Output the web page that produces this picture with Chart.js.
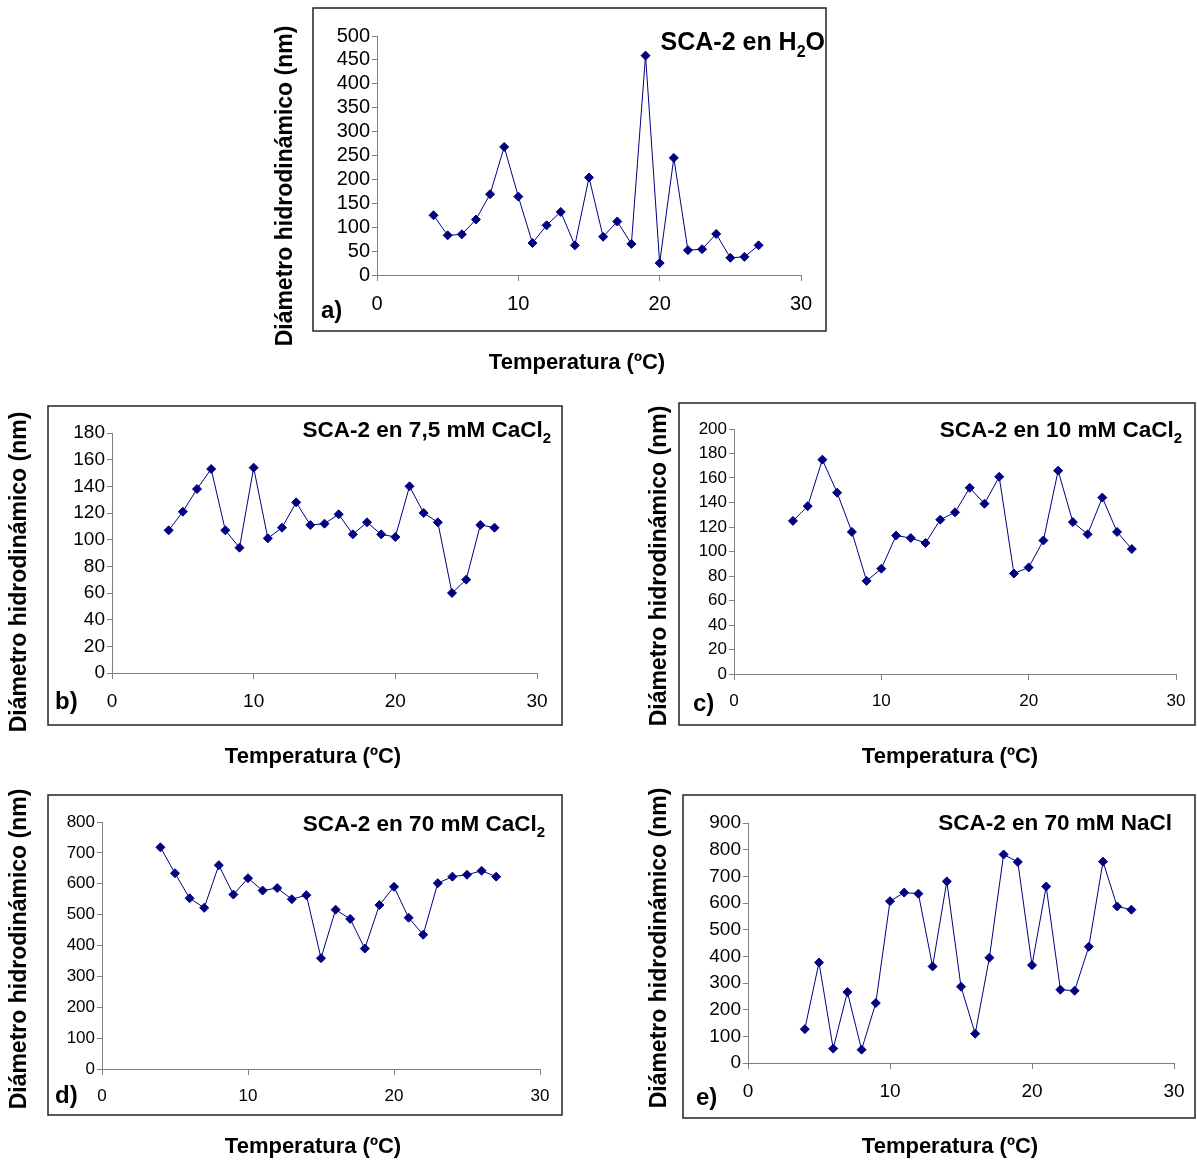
<!DOCTYPE html>
<html>
<head>
<meta charset="utf-8">
<script src="https://cdn.jsdelivr.net/npm/chart.js@4.4.1/dist/chart.umd.min.js"></script>
<style>
  html, body { margin: 0; padding: 0; background: #fff; }
  body { width: 1197px; height: 1160px; position: relative; overflow: hidden; }
  canvas { position: absolute; }
</style>
</head>
<body>
<canvas id="chartA"></canvas>
<canvas id="chartB"></canvas>
<canvas id="chartC"></canvas>
<canvas id="chartD"></canvas>
<canvas id="chartE"></canvas>
<script>
// temperatures (x) shared by all five series
const temperatures = [4, 5, 6, 7, 8, 9, 10, 11, 12, 13, 14, 15, 16, 17, 18, 19, 20, 21, 22, 23, 24, 25, 26, 27];
const tempTicks = [0, 10, 20, 30];

// hydrodynamic diameter (nm)
const diamH2O      = [125, 83, 85, 116, 169, 268, 164, 67, 104, 132, 62, 204, 80, 112, 65, 459, 25, 245, 52, 54, 86, 36, 38, 62];
const diamCaCl2_75 = [107, 121, 138, 153, 107, 94, 154, 101, 109, 128, 111, 112, 119, 104, 113, 104, 102, 140, 120, 113, 60, 70, 111, 109];
const diamCaCl2_10 = [125, 137, 175, 148, 116, 76, 86, 113, 111, 107, 126, 132, 152, 139, 161, 82, 87, 109, 166, 124, 114, 144, 116, 102];
const diamCaCl2_70 = [718, 634, 553, 522, 660, 565, 618, 578, 586, 550, 563, 359, 516, 486, 390, 531, 590, 490, 435, 602, 623, 629, 642, 623];
const diamNaCl_70  = [127, 377, 54, 266, 50, 225, 607, 639, 635, 362, 681, 286, 110, 395, 782, 754, 367, 662, 275, 271, 436, 755, 587, 575];

// y tick labels per panel
const ticksA = [0, 50, 100, 150, 200, 250, 300, 350, 400, 450, 500];
const ticksB = [0, 20, 40, 60, 80, 100, 120, 140, 160, 180];
const ticksC = [0, 20, 40, 60, 80, 100, 120, 140, 160, 180, 200];
const ticksD = [0, 100, 200, 300, 400, 500, 600, 700, 800];
const ticksE = [0, 100, 200, 300, 400, 500, 600, 700, 800, 900];

const FONT = '"Liberation Sans", Arial, Helvetica, sans-serif';
const NAVY = '#000080';
const AXIS_GREY = '#808080';
const X_TITLE = 'Temperatura (ºC)';
const Y_TITLE = 'Diámetro hidrodinámico (nm)';

// page layout of each panel (canvas, plot area, frame, text anchors)
const panels = [
    { id: 'chartA', values: diamH2O, yTicks: ticksA, title: ['SCA-2 en H', '2', 'O'], letter: 'a)',
      canvas: { x: 268, y: 4, w: 562, h: 380 }, area: { l: 377, r: 801, t: 36, b: 275 },
      box: { l: 313, t: 8, r: 826, b: 331 }, yTitle: [286, 186], xTitle: [577, 369], letterPos: [321, 318],
      titlePos: [825, 50], titleSize: 25, tickSize: 20 },
    { id: 'chartB', values: diamCaCl2_75, yTicks: ticksB, title: ['SCA-2 en 7,5 mM CaCl', '2', ''], letter: 'b)',
      canvas: { x: 2, y: 398, w: 565, h: 377 }, area: { l: 112, r: 537, t: 433, b: 673 },
      box: { l: 48, t: 406, r: 562, b: 725 }, yTitle: [20, 572], xTitle: [313, 763], letterPos: [55, 709],
      titlePos: [551, 437], titleSize: 22.5, tickSize: 19 },
    { id: 'chartC', values: diamCaCl2_10, yTicks: ticksC, title: ['SCA-2 en 10 mM CaCl', '2', ''], letter: 'c)',
      canvas: { x: 640, y: 395, w: 557, h: 380 }, area: { l: 734, r: 1176, t: 429, b: 674 },
      box: { l: 679, t: 403, r: 1195, b: 725 }, yTitle: [660, 566], xTitle: [950, 763], letterPos: [693, 711],
      titlePos: [1182, 437], titleSize: 22.5, tickSize: 17 },
    { id: 'chartD', values: diamCaCl2_70, yTicks: ticksD, title: ['SCA-2 en 70 mM CaCl', '2', ''], letter: 'd)',
      canvas: { x: 2, y: 778, w: 565, h: 382 }, area: { l: 102, r: 540, t: 822, b: 1069 },
      box: { l: 48, t: 795, r: 562, b: 1115 }, yTitle: [20, 949], xTitle: [313, 1153], letterPos: [55, 1103],
      titlePos: [545, 831], titleSize: 22.5, tickSize: 17 },
    { id: 'chartE', values: diamNaCl_70, yTicks: ticksE, title: ['SCA-2 en 70 mM NaCl', '', ''], letter: 'e)',
      canvas: { x: 640, y: 778, w: 557, h: 382 }, area: { l: 748, r: 1174, t: 823, b: 1063 },
      box: { l: 683, t: 795, r: 1195, b: 1118 }, yTitle: [660, 948], xTitle: [950, 1153], letterPos: [696, 1105],
      titlePos: [1172, 830], titleSize: 22.5, tickSize: 19 }
];

// frame, panel title (with subscript), letter and axis titles
const decorations = {
    id: 'decorations',
    afterDraw(chart, args, opts) {
        const p = opts.panel;
        const ox = p.canvas.x, oy = p.canvas.y;
        const ctx = chart.ctx;
        ctx.save();
        ctx.strokeStyle = '#222';
        ctx.lineWidth = 1.5;
        ctx.strokeRect(p.box.l - ox, p.box.t - oy, p.box.r - p.box.l, p.box.b - p.box.t);

        ctx.fillStyle = '#000';
        // title: main + subscript + rest, right aligned
        const big = 'bold ' + p.titleSize + 'px ' + FONT;
        const small = 'bold ' + Math.round(p.titleSize * 0.65) + 'px ' + FONT;
        ctx.font = big;
        const w0 = ctx.measureText(p.title[0]).width;
        const w2 = ctx.measureText(p.title[2]).width;
        ctx.font = small;
        const w1 = ctx.measureText(p.title[1]).width;
        let tx = p.titlePos[0] - ox - (w0 + w1 + w2);
        const ty = p.titlePos[1] - oy;
        ctx.textAlign = 'left';
        ctx.textBaseline = 'alphabetic';
        ctx.font = big;
        ctx.fillText(p.title[0], tx, ty);
        tx += w0;
        ctx.font = small;
        ctx.fillText(p.title[1], tx, ty + p.titleSize * 0.28);
        tx += w1;
        ctx.font = big;
        ctx.fillText(p.title[2], tx, ty);

        ctx.font = 'bold 24px ' + FONT;
        ctx.fillText(p.letter, p.letterPos[0] - ox, p.letterPos[1] - oy);

        ctx.font = 'bold 22px ' + FONT;
        ctx.textAlign = 'center';
        ctx.fillText(X_TITLE, p.xTitle[0] - ox, p.xTitle[1] - oy);

        ctx.font = 'bold 23px ' + FONT;
        ctx.translate(p.yTitle[0] - ox, p.yTitle[1] - oy);
        ctx.rotate(-Math.PI / 2);
        ctx.textBaseline = 'middle';
        ctx.fillText(Y_TITLE, 0, 0);
        ctx.restore();
    }
};

panels.forEach(p => {
    const canvas = document.getElementById(p.id);
    canvas.width = p.canvas.w;
    canvas.height = p.canvas.h;
    canvas.style.left = p.canvas.x + 'px';
    canvas.style.top = p.canvas.y + 'px';

    const yAxisWidth = p.area.l - p.canvas.x;
    const xAxisHeight = p.canvas.y + p.canvas.h - p.area.b;
    const yTicks = p.yTicks;

    new Chart(canvas.getContext('2d'), {
        type: 'line',
        data: {
            datasets: [{
                data: temperatures.map((t, i) => ({ x: t, y: p.values[i] })),
                borderColor: NAVY,
                backgroundColor: NAVY,
                borderWidth: 1,
                pointStyle: 'rectRot',
                pointRadius: 4.5,
                pointBorderWidth: 1,
                tension: 0,
                fill: false
            }]
        },
        options: {
            responsive: false,
            animation: false,
            events: [],
            layout: {
                padding: { left: 0, bottom: 0, top: p.area.t - p.canvas.y, right: p.canvas.x + p.canvas.w - p.area.r }
            },
            scales: {
                x: {
                    type: 'linear',
                    min: tempTicks[0],
                    max: tempTicks[tempTicks.length - 1],
                    afterBuildTicks: s => { s.ticks = tempTicks.map(v => ({ value: v })); },
                    afterFit: s => { s.height = xAxisHeight; },
                    ticks: { color: '#000', padding: 11, autoSkip: false, maxRotation: 0, font: { family: FONT, size: p.tickSize } },
                    grid: { drawOnChartArea: false, drawTicks: true, tickLength: 6, color: AXIS_GREY },
                    border: { display: true, color: AXIS_GREY, width: 1 }
                },
                y: {
                    min: yTicks[0],
                    max: yTicks[yTicks.length - 1],
                    afterBuildTicks: s => { s.ticks = yTicks.map(v => ({ value: v })); },
                    afterFit: s => { s.width = yAxisWidth; },
                    ticks: { color: '#000', padding: 2, autoSkip: false, font: { family: FONT, size: p.tickSize } },
                    grid: { drawOnChartArea: false, drawTicks: true, tickLength: 5, color: AXIS_GREY },
                    border: { display: true, color: AXIS_GREY, width: 1 }
                }
            },
            plugins: {
                legend: { display: false },
                tooltip: { enabled: false },
                decorations: { panel: p }
            }
        },
        plugins: [decorations]
    });
});
</script>
</body>
</html>
